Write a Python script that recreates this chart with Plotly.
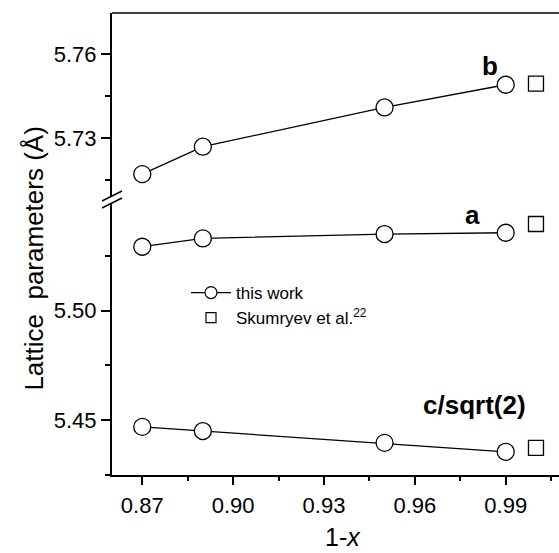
import plotly.graph_objects as go

# Composition 1-x
x_this = [0.87, 0.89, 0.95, 0.99]
x_ref = [1.0]

# Lattice parameters (Angstrom), this work
b_this = [5.7171, 5.7269, 5.7409, 5.7490]
a_this = [5.5293, 5.5331, 5.5351, 5.5357]
c_this = [5.4469, 5.4450, 5.4396, 5.4355]

# Literature values (Skumryev et al.)
b_ref = [5.7494]
a_ref = [5.5397]
c_ref = [5.4373]

x_ticks = [0.87, 0.90, 0.93, 0.96, 0.99]
upper_ticks = [5.73, 5.76]
lower_ticks = [5.45, 5.50]

FONT = "Arial, Liberation Sans, sans-serif"
W, H = 559, 553
ML, MR, MT, MB = 112, 0, 13, 78
PH = H - MT - MB          # plot height in px
PW = W - ML - MR

def py(pix):
    """pixel row -> paper y"""
    return (H - MB - pix) / PH

def px(pix):
    """pixel column -> paper x"""
    return (pix - ML) / PW

upper_dom = [py(196), 1.0]
lower_dom = [0.0, py(203)]

circle_f = dict(symbol="circle", size=17, color="white", line=dict(width=1.3, color="black"))
square = dict(symbol="square", size=15, color="white", line=dict(width=1.3, color="black"))
line = dict(color="black", width=1.3)

fig = go.Figure()

# this work: b on the upper axis, a and c/sqrt(2) on the lower axis
fig.add_trace(go.Scatter(x=x_this, y=b_this, mode="lines+markers", marker=circle_f,
                         line=line, yaxis="y2", showlegend=False))
for vals in (a_this, c_this):
    fig.add_trace(go.Scatter(x=x_this, y=vals, mode="lines+markers", marker=circle_f,
                             line=line, yaxis="y", showlegend=False))

# literature points
fig.add_trace(go.Scatter(x=x_ref, y=b_ref, mode="markers", marker=square,
                         yaxis="y2", showlegend=False))
for vals in (a_ref, c_ref):
    fig.add_trace(go.Scatter(x=x_ref, y=vals, mode="markers", marker=square,
                             yaxis="y", showlegend=False))

# legend entries
fig.add_trace(go.Scatter(x=[None], y=[None], mode="lines+markers", name="this work",
                         marker=dict(symbol="circle", size=12, color="white",
                                     line=dict(width=1.2, color="black")),
                         line=dict(color="black", width=1.2), legendgroup="g1"))
fig.add_trace(go.Scatter(x=[None], y=[None], mode="markers",
                         name="Skumryev et al.<sup>22</sup>",
                         marker=dict(symbol="square", size=10, color="white",
                                     line=dict(width=1.2, color="black")),
                         legendgroup="g2"))

axis_common = dict(showline=True, linecolor="black", linewidth=2, ticks="outside",
                   tickcolor="black", tickwidth=1.5, showgrid=False, zeroline=False,
                   tickfont=dict(family=FONT, size=22, color="black"))

fig.update_layout(
    width=W, height=H,
    margin=dict(l=ML, r=MR, t=MT, b=MB),
    plot_bgcolor="white", paper_bgcolor="white",
    showlegend=True,
    legend=dict(x=px(186), y=py(275), xanchor="left", yanchor="top",
                font=dict(family=FONT, size=17, color="black"),
                bgcolor="rgba(0,0,0,0)", itemwidth=40,
                traceorder="grouped", tracegroupgap=0),
    xaxis=dict(range=[0.86, 1.0076], tickvals=x_ticks,
               ticktext=[f"{v:.2f}" for v in x_ticks], ticklen=8,
               ticklabelstandoff=2,
               minor=dict(dtick=0.015, tick0=0.87, ticklen=4, ticks="outside",
                          tickcolor="black", tickwidth=1.5),
               anchor="y", **axis_common),
    yaxis=dict(domain=lower_dom, range=[5.4249, 5.5493], tickvals=lower_ticks,
               ticktext=[f"{v:.2f}" for v in lower_ticks], ticklen=9,
               minor=dict(dtick=0.025, tick0=5.45, ticklen=5, ticks="outside",
                          tickcolor="black", tickwidth=1.5),
               anchor="x", **axis_common),
    yaxis2=dict(domain=upper_dom, range=[5.7093, 5.7746], tickvals=upper_ticks,
                ticktext=[f"{v:.2f}" for v in upper_ticks], ticklen=9,
                minor=dict(dtick=0.015, tick0=5.73, ticklen=5, ticks="outside",
                           tickcolor="black", tickwidth=1.5),
                anchor="x", **axis_common),
)

# series labels
lab_font = dict(family=FONT, size=26, color="black")
fig.add_annotation(x=0.9849, y=5.7556, xref="x", yref="y2", text="<b>b</b>",
                   showarrow=False, font=lab_font)
fig.add_annotation(x=0.9791, y=5.5438, xref="x", yref="y", text="<b>a</b>",
                   showarrow=False, font=lab_font)
fig.add_annotation(x=0.9796, y=5.4569, xref="x", yref="y", text="<b>c/sqrt(2)</b>",
                   showarrow=False, font=lab_font)

# axis titles
title_font = dict(family=FONT, size=26, color="black")
fig.add_annotation(x=px(33.6), y=py(259), xref="paper", yref="paper",
                   text="Lattice  parameters (Å)", textangle=-90, showarrow=False,
                   font=title_font, xanchor="center", yanchor="middle")
fig.add_annotation(x=px(343), y=py(553), xref="paper", yref="paper",
                   text="1-<i>x</i>", showarrow=False, font=dict(family=FONT, size=25, color="black"),
                   xanchor="center", yanchor="bottom")

# top frame line and axis break marks
fig.add_shape(type="line", xref="paper", yref="paper", x0=0, x1=1, y0=1, y1=1,
              line=dict(color="black", width=1.5))
for yc in (196, 203):
    fig.add_shape(type="line", xref="paper", yref="paper",
                  x0=px(102), y0=py(yc + 5), x1=px(122), y1=py(yc - 5),
                  line=dict(color="black", width=1.5))

fig.write_html("out.html")
